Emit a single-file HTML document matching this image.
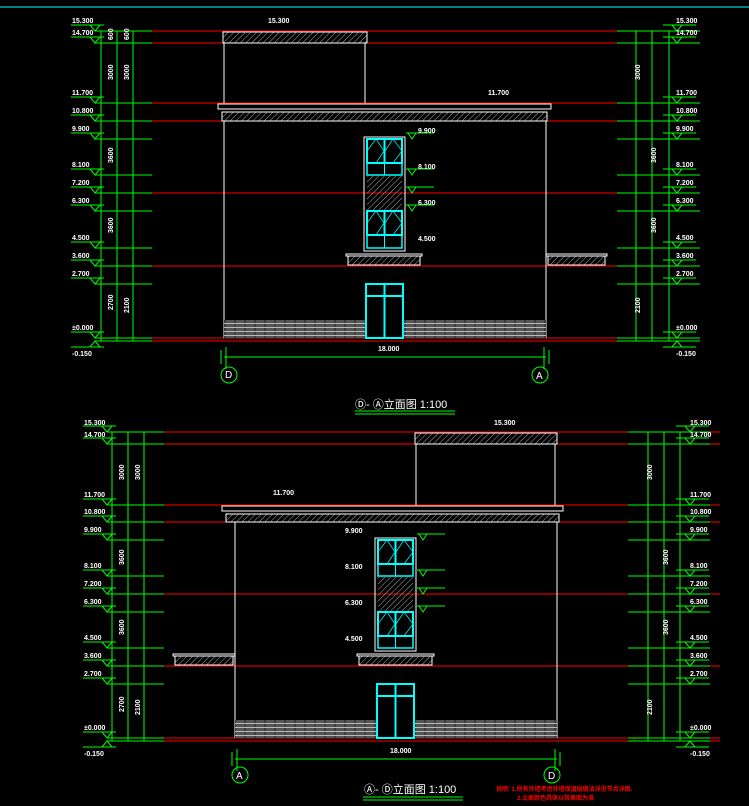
<!DOCTYPE html>
<html><head><meta charset="utf-8"><style>
html,body{margin:0;padding:0;background:#000;width:749px;height:806px;overflow:hidden}
svg{display:block}
text{font-family:"Liberation Sans","Noto Sans CJK SC",sans-serif;fill:#fff}
.s{font-size:7px;font-weight:bold}
</style></head><body>
<svg id="d" width="749" height="806" viewBox="0 0 749 806" xmlns="http://www.w3.org/2000/svg">
<defs>
<pattern id="h" width="4" height="4" patternUnits="userSpaceOnUse" patternTransform="rotate(45)"><line x1="0" y1="0" x2="0" y2="4" stroke="#aaa" stroke-width="1"/></pattern>
<pattern id="b" width="10" height="4" patternUnits="userSpaceOnUse"><rect width="10" height="4" fill="#555"/><line x1="0" y1="3.5" x2="10" y2="3.5" stroke="#bbb" stroke-width="1"/><line x1="5" y1="0" x2="5" y2="3" stroke="#222" stroke-width="1"/></pattern>
</defs>
<line x1="0" y1="7" x2="749" y2="7" stroke="#0ff" stroke-width="1"/>
<g id="g"></g>
<g class="s">
<text x="72" y="23">15.300</text><text x="72" y="35">14.700</text><text x="72" y="95">11.700</text><text x="72" y="113">10.800</text><text x="72" y="131">9.900</text><text x="72" y="167">8.100</text><text x="72" y="185">7.200</text><text x="72" y="203">6.300</text><text x="72" y="240">4.500</text><text x="72" y="258">3.600</text><text x="72" y="276">2.700</text><text x="72" y="330">±0.000</text><text x="72" y="356">-0.150</text>
<text x="676" y="23">15.300</text><text x="676" y="35">14.700</text><text x="676" y="95">11.700</text><text x="676" y="113">10.800</text><text x="676" y="131">9.900</text><text x="676" y="167">8.100</text><text x="676" y="185">7.200</text><text x="676" y="203">6.300</text><text x="676" y="240">4.500</text><text x="676" y="258">3.600</text><text x="676" y="276">2.700</text><text x="676" y="330">±0.000</text><text x="676" y="356">-0.150</text>
<text x="268" y="23">15.300</text><text x="488" y="95">11.700</text>
<text x="418" y="133">9.900</text><text x="418" y="169">8.100</text><text x="418" y="205">6.300</text><text x="418" y="241">4.500</text>
<text x="378" y="351">18.000</text>
<text x="84" y="425">15.300</text><text x="84" y="437">14.700</text><text x="84" y="497">11.700</text><text x="84" y="514">10.800</text><text x="84" y="532">9.900</text><text x="84" y="568">8.100</text><text x="84" y="586">7.200</text><text x="84" y="604">6.300</text><text x="84" y="640">4.500</text><text x="84" y="658">3.600</text><text x="84" y="676">2.700</text><text x="84" y="730">±0.000</text><text x="84" y="756">-0.150</text>
<text x="690" y="425">15.300</text><text x="690" y="437">14.700</text><text x="690" y="497">11.700</text><text x="690" y="514">10.800</text><text x="690" y="532">9.900</text><text x="690" y="568">8.100</text><text x="690" y="586">7.200</text><text x="690" y="604">6.300</text><text x="690" y="640">4.500</text><text x="690" y="658">3.600</text><text x="690" y="676">2.700</text><text x="690" y="730">±0.000</text><text x="690" y="756">-0.150</text>
<text x="494" y="425">15.300</text><text x="273" y="495">11.700</text>
<text x="345" y="533">9.900</text><text x="345" y="569">8.100</text><text x="345" y="605">6.300</text><text x="345" y="641">4.500</text>
<text x="390" y="753">18.000</text>
</g>
<g class="s" font-size="6">
<text transform="translate(113,40) rotate(-90)">600</text><text transform="translate(129,40) rotate(-90)">600</text>
<text transform="translate(113,80) rotate(-90)">3000</text><text transform="translate(129,80) rotate(-90)">3000</text>
<text transform="translate(113,163) rotate(-90)">3600</text><text transform="translate(113,233) rotate(-90)">3600</text><text transform="translate(113,310) rotate(-90)">2700</text>
<text transform="translate(129,313) rotate(-90)">2100</text>
<text transform="translate(640,80) rotate(-90)">3000</text><text transform="translate(656,163) rotate(-90)">3600</text><text transform="translate(656,233) rotate(-90)">3600</text><text transform="translate(640,313) rotate(-90)">2100</text>
<text transform="translate(124,480) rotate(-90)">3000</text><text transform="translate(140,480) rotate(-90)">3000</text>
<text transform="translate(124,565) rotate(-90)">3600</text><text transform="translate(124,635) rotate(-90)">3600</text><text transform="translate(124,712) rotate(-90)">2700</text><text transform="translate(140,715) rotate(-90)">2100</text>
<text transform="translate(652,480) rotate(-90)">3000</text><text transform="translate(668,565) rotate(-90)">3600</text><text transform="translate(668,635) rotate(-90)">3600</text><text transform="translate(652,715) rotate(-90)">2100</text>
</g>
<text x="225" y="378" font-size="10" fill="#fff">D</text><text x="536" y="379" font-size="10">A</text>
<text x="236" y="779" font-size="10">A</text><text x="548" y="779" font-size="10">D</text>
<text x="355" y="408" font-size="11">Ⓓ- Ⓐ立面图 1:100</text>
<text x="364" y="793" font-size="11">Ⓐ- Ⓓ立面图 1:100</text>
<text x="496" y="791" font-size="6" style="fill:#f00;font-weight:bold">说明: 1.所有外墙考虑外墙保温层做法详见节点详图.</text>
<text x="517" y="800" font-size="6" style="fill:#f00;font-weight:bold">2.立面颜色具体以效果图为准</text>
</svg>
<script>
var g=document.getElementById('g'),NS='http://www.w3.org/2000/svg';
function el(t,a){var e=document.createElementNS(NS,t);for(var k in a)e.setAttribute(k,a[k]);g.appendChild(e);return e}
function L(x1,y1,x2,y2,c,w){el('line',{x1:x1,y1:y1,x2:x2,y2:y2,stroke:c,'stroke-width':w||1})}
function R(x,y,w,h,f,s,sw){el('rect',{x:x,y:y,width:w,height:h,fill:f||'none',stroke:s||'none','stroke-width':sw||1})}
var G='#0f0',RD='#f00',W='#fff',C='#0ff';
function elev(o){
 var ys=o.ys;
 o.red.forEach(function(y){L(o.redX1,y,o.redX2,y,RD,1)});
 [o.lx,o.rx].forEach(function(side,si){
  var vx=side.v;
  vx.forEach(function(x){L(x,ys[0],x,ys[11]+3,G,1)});
  ys.forEach(function(y,i){
   var tx=side.t;L(side.ta,y,side.tb,y,G,1);
   var ly=i==12?y+6:y-6;
   L(tx,ly,tx+33,ly,G,1);
   var px=tx+(si==0?24:14);
   el('polyline',{points:(px-5)+','+ly+' '+px+','+y+' '+(px+5)+','+ly,fill:'none',stroke:G});
  });
 });
 var b=o.b;
 R(b.rx1,ys[0]+1,b.rx2-b.rx1,ys[1]-ys[0]-1,'url(#h)',W);
 L(b.rx1+1,ys[1],b.rx1+1,ys[2],W);L(b.rx2-2,ys[1],b.rx2-2,ys[2],W);
 R(b.cx1,ys[2]+1,b.cx2-b.cx1,5,'none',W);
 R(b.cx1+4,ys[2]+9,b.cx2-b.cx1-8,ys[3]-ys[2]-9,'url(#h)',W);
 L(b.wx1,ys[3],b.wx1,ys[11],W);L(b.wx2,ys[3],b.wx2,ys[11],W);
 R(b.wx1,ys[11]-18,b.wx2-b.wx1,18,'url(#b)');
 var wx=b.win;
 R(wx,ys[4]-2,41,ys[8]-ys[4]+5,'none',W);
 [[ys[4],ys[5]],[ys[7],ys[8]]].forEach(function(p){
  var t=p[0],h1=24;R(wx+3,t,35,h1,'none',C,2);L(wx+20.5,t,wx+20.5,t+h1,C,2);
  el('polyline',{points:(wx+3)+','+(t+12)+' '+(wx+12)+','+t+' '+(wx+20)+','+(t+12)+' '+(wx+12)+','+(t+h1)+' z',fill:'none',stroke:C,'stroke-width':0.7});
  el('polyline',{points:(wx+21)+','+(t+12)+' '+(wx+29)+','+t+' '+(wx+38)+','+(t+12)+' '+(wx+29)+','+(t+h1)+' z',fill:'none',stroke:C,'stroke-width':0.7});
  R(wx+3,t+h1,35,p[1]-t-h1,'none',C,1.5);L(wx+20.5,t+h1,wx+20.5,p[1],C,1);
 });
 R(wx+3,ys[5]+1,35,ys[7]-ys[5]-2,'url(#h)');
 b.can.forEach(function(c){R(c[0],ys[8]+6,c[1]-c[0],2,'none',W);R(c[0]+2,ys[8]+8,c[1]-c[0]-4,ys[9]-ys[8]-9,'url(#h)',W)});
 var dx=wx+2;R(dx,ys[10],37,ys[11]-ys[10],'#000',C,2);L(dx,ys[10]+12,dx+37,ys[10]+12,C,2);L(dx+18.5,ys[10],dx+18.5,ys[11],C,2);
 L(b.wx1,o.dy,b.wx2,o.dy,G);L(b.wx1+2,o.dy-10,b.wx1+2,o.dy+12,G);L(b.wx2-2,o.dy-10,b.wx2-2,o.dy+12,G);L(b.wx1-3,o.dy-7,b.wx1-3,o.dy+7,G);L(b.wx2+3,o.dy-7,b.wx2+3,o.dy+7,G);
 o.circ.forEach(function(c){el('circle',{cx:c[0],cy:c[1],r:8,fill:'none',stroke:G})});
 L(o.tl[0],o.tl[1],o.tl[0]+100,o.tl[1],G);L(o.tl[0],o.tl[1]+3,o.tl[0]+100,o.tl[1]+3,G);
 [4,5,6,7].forEach(function(i){var x=wx+42;L(x,ys[i]-6,x+28,ys[i]-6,G);el('polyline',{points:(x+2)+','+(ys[i]-6)+' '+(x+6)+','+ys[i]+' '+(x+10)+','+(ys[i]-6),fill:'none',stroke:G})});
}
elev({ys:[31,43,103,121,139,175,193,211,248,266,284,338,341],red:[31,43,103,121,193,266,338,341],redX1:152,redX2:617,
 lx:{v:[101,117,133],t:71,ta:95,tb:152},rx:{v:[636,652,669],t:663,ta:617,tb:700},
 b:{rx1:223,rx2:367,cx1:218,cx2:551,wx1:224,wx2:546,win:364,can:[[346,422],[546,607]]},
 dy:357,circ:[[229,375],[540,375]],tl:[355,411]});
elev({ys:[432,444,505,522,540,576,594,612,648,666,684,738,741],red:[432,444,505,522,594,666,738,741],redX1:164,redX2:720,
 lx:{v:[112,128,144],t:83,ta:107,tb:164},rx:{v:[648,664,680],t:676,ta:628,tb:710},
 b:{rx1:415,rx2:557,cx1:222,cx2:563,wx1:235,wx2:557,win:375,can:[[173,235],[357,434]]},
 dy:759,circ:[[240,775],[552,775]],tl:[363,797]});
</script>
</body></html>
